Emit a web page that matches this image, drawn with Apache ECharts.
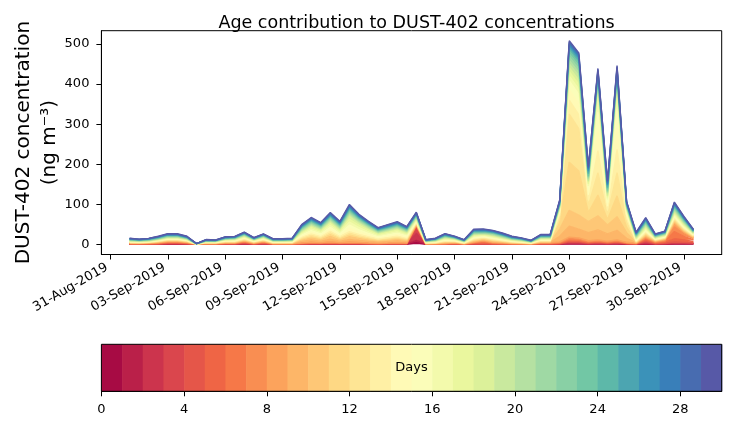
<!DOCTYPE html>
<html><head><meta charset="utf-8">
<script src="https://cdn.jsdelivr.net/npm/echarts@6/dist/echarts.min.js"></script>
<style>html,body{margin:0;padding:0;background:#fff}#c{width:730px;height:425px}</style>
</head><body><div id="c"></div>
<script>
// ---- categories: 12-hourly times ----
const times = [
'2019-09-01T00','2019-09-01T12','2019-09-02T00','2019-09-02T12','2019-09-03T00','2019-09-03T12','2019-09-04T00','2019-09-04T12','2019-09-05T00','2019-09-05T12',
'2019-09-06T00','2019-09-06T12','2019-09-07T00','2019-09-07T12','2019-09-08T00','2019-09-08T12','2019-09-09T00','2019-09-09T12','2019-09-10T00','2019-09-10T12',
'2019-09-11T00','2019-09-11T12','2019-09-12T00','2019-09-12T12','2019-09-13T00','2019-09-13T12','2019-09-14T00','2019-09-14T12','2019-09-15T00','2019-09-15T12',
'2019-09-16T00','2019-09-16T12','2019-09-17T00','2019-09-17T12','2019-09-18T00','2019-09-18T12','2019-09-19T00','2019-09-19T12','2019-09-20T00','2019-09-20T12',
'2019-09-21T00','2019-09-21T12','2019-09-22T00','2019-09-22T12','2019-09-23T00','2019-09-23T12','2019-09-24T00','2019-09-24T12','2019-09-25T00','2019-09-25T12',
'2019-09-26T00','2019-09-26T12','2019-09-27T00','2019-09-27T12','2019-09-28T00','2019-09-28T12','2019-09-29T00','2019-09-29T12','2019-09-30T00','2019-09-30T12'];

// ---- series values: contribution of each age (days), ng m-3 ----
const day0 = [.1,.1,.1,.1,.3,.3,.2,.02,.1,.05, .1,.1,.4,.1,.3,.05,.05,.05,.1,.2, .2,.2,.2,.2,.2,.1,.1,.1,.2,.1, 4,.05,.05,.05,.1,.05,.1,.2,.1,.05, .05,.05,.03,.1,.1,.2,1,.8,.4,.8, .4,.8,.3,.1,.5,.2,.3,.6,.5,.4];
const day1 = [.15,.15,.15,.2,.5,.5,.3,.03,.15,.08, .2,.2,.6,.15,.5,.08,.08,.08,.2,.3, .3,.3,.3,.3,.3,.2,.15,.2,.3,.2, 6,.08,.08,.08,.15,.08,.2,.3,.15,.08, .08,.08,.05,.15,.15,.3,1.2,1,.5,1, .5,1,.3,.15,1,.3,.5,1,.8,.6];
const day2 = [.2,.2,.2,.3,.6,.6,.4,.04,.2,.1, .3,.3,.8,.2,.6,.1,.1,.1,.3,.4, .4,.4,.4,.4,.4,.3,.2,.3,.4,.4, 18,.1,.1,.1,.2,.1,.3,.4,.2,.1, .1,.1,.06,.2,.2,.4,1.5,1.2,.6,1, .6,1,.4,.2,1.5,.4,.6,1.2,1,.8];
const day3 = [.2,.2,.2,.3,.7,.7,.4,.04,.2,.1, .3,.3,.9,.2,.7,.1,.1,.1,.3,.4, .4,.4,.4,.4,.4,.3,.2,.3,.4,.4, 12,.1,.1,.1,.3,.1,.4,.5,.2,.1, .1,.1,.06,.2,.2,.5,1.5,1.4,.7,1, .7,1,.5,.2,2.5,.5,.7,1.4,1.2,1];
const day4 = [.3,.3,.3,.4,.8,.8,.5,.05,.3,.15, .4,.4,1.1,.3,.8,.15,.15,.15,.4,.5, .5,.5,.5,.5,.5,.4,.3,.4,.5,.4, 5,.15,.15,.15,.4,.15,.5,.6,.3,.15, .15,.15,.08,.3,.3,.6,1.8,1.6,.8,1.2, .8,1.2,.5,.3,2.5,.6,.8,1.6,1.4,1.2];
const day5 = [.4,.4,.5,.7,1,1,.8,.07,.4,.4, .6,.6,1,.5,1,.4,.4,.4,.5,.8, .5,1,.5,.9,.7,.5,.4,.5,.7,.5, 1,.2,.3,.5,.9,.2,1,2,1,.8, .5,.4,.25,.8,.8,.8,2,2,1.2,1.2, 1,1.2,.6,.5,2.8,1.3,2.2,8,6,3];
const day6 = [.4,.4,.5,.8,1.1,1.1,.8,.07,.4,.4, .6,.6,1.1,.5,1.1,.4,.4,.4,.6,.9, .6,1.1,.6,1,.8,.6,.5,.6,.8,.5, 1,.2,.3,.5,.9,.2,1,2.2,1,.8, .5,.4,.25,.8,.8,1,2.5,2.3,1.4,1.4, 1.2,1.4,.7,.5,2.8,1.3,2.2,18,9,4.5];
const day7 = [.4,.4,.5,.8,1,1,.8,.07,.4,.4, .6,.6,1,.5,1,.4,.4,.4,.6,.9, .6,1.1,.6,1,.8,.6,.5,.6,.8,.5, 1,.2,.3,.5,.8,.2,1,1.7,1,.8, .5,.4,.25,.8,.8,1,3,2.7,1.6,1.6, 1.3,1.6,.8,.5,2.4,1.2,2,12,6,3];
const day8 = [.4,.4,.5,.8,1,1,.8,.07,.4,.4, .6,.6,1,.5,1,.4,.4,.4,.7,1, .7,1.2,.7,1.1,.8,.7,.6,.7,.8,.5, 1,.2,.3,.5,.7,.2,1,1.5,1,.8, .5,.4,.25,.8,.8,1.2,3.5,3,1.8,1.8, 1.5,1.8,.9,.5,2.2,1.1,1.8,7,4,1.5];
const day9 = [.6,.5,.6,.8,1,1,.8,.08,.5,.5, .8,.8,1.2,.8,1,.6,.6,.6,3.7,5.3, 3.9,6.8,3.9,6.6,5,3.9,2.9,3.5,4.2,3.1, 1.2,.5,.6,1.2,.8,.5,1.6,1.7,1.6,1.2, .8,.6,.4,1,1,14,27,22,20,25, 18,24,10,1,2.5,1,1.2,3.2,2.1,1.2];
const day10 = [.6,.5,.6,.8,1,1,.8,.08,.5,.5, .8,.8,1.2,.8,1,.6,.6,.6,3.6,5.2, 3.8,6.7,3.8,6.5,4.8,3.8,2.8,3.4,4,3, 1.2,.5,.6,1.2,.8,.5,1.6,1.6,1.6,1.2, .8,.6,.4,1,1,18,40,35,28,35, 22,34,14,1,2.4,1,1.2,3.1,2,1.2];
const day11 = [.6,.5,.6,.8,1,1,.8,.08,.5,.5, .8,.8,1.2,.8,1,.6,.6,.6,2.4,3.4, 2.6,4.4,2.6,4.4,3.4,2.6,1.8,2.2,2.6,2, 1.2,.5,.6,1.2,.8,.5,1.6,1.6,1.6,1.2, .8,.6,.4,1,1,16,120,110,22,52, 14,52,14,1,2.4,1,1.2,3,2,1.2];
const day12 = [.6,.5,.6,.8,1,1,.8,.08,.5,.5, .8,.8,1.2,.8,1,.6,.6,.6,2.4,3.4, 2.6,4.3,2.6,4.3,3.4,2.6,1.8,2.2,2.6,2, 1.2,.5,.6,1.2,.8,.5,1.6,1.6,1.6,1.2, .8,.6,.4,1,1,12,120,106,18,56, 12,58,12,1,2.4,1,1.2,2.9,2,1.2];
const day13 = [.6,.5,.6,.8,1,1,.8,.08,.5,.5, .8,.8,1.2,.8,1,.6,.6,.6,2.3,3.3, 2.5,4.2,2.5,4.2,3.3,2.5,1.7,2.1,2.5,1.9, 1.2,.5,.6,1.2,.8,.5,1.6,1.5,1.6,1.2, .8,.6,.4,1,1,8,35,35,13,55, 11,58,10,1,2.3,1,1.2,2.8,1.9,1.2];
const day14 = [.7,.6,.6,.8,1,1,.8,.08,.5,.5, .9,1,1.4,.8,1.2,.7,.7,.8,2.9,4.2, 3.5,5,3.7,8,5.8,4.1,2.9,3.3,3.7,2.9, 2,.6,.8,1.7,1,.6,2.1,1.6,1.8,1.4, 1,.8,.5,1.2,1.2,6,26,27,14,50, 10,52,8,1.6,2.8,1,1.2,3,2.2,1.2];
const day15 = [.7,.6,.6,.8,1,1,.8,.08,.5,.5, .9,1,1.4,.8,1.2,.7,.7,.8,2.8,4.1, 3.4,4.9,3.6,7.8,5.7,4,2.8,3.2,3.6,2.8, 2,.6,.8,1.6,1,.6,2,1.6,1.8,1.4, 1,.8,.5,1.2,1.2,5,22,23,12,46, 9,48,7,1.6,2.8,1,1.2,3,2.2,1.2];
const day16 = [.7,.6,.6,.8,1,1,.8,.08,.5,.5, .9,1,1.4,.8,1.2,.7,.7,.8,2.8,4, 3.4,4.8,3.6,7.6,5.6,4,2.8,3.2,3.6,2.8, 2,.6,.8,1.6,1,.6,2,1.6,1.8,1.4, 1,.8,.5,1.2,1.2,4,12,13,10,40, 8,40,5,1.6,2.8,1,1.2,3,2.2,1.2];
const day17 = [.7,.6,.6,.8,1,1,.8,.08,.5,.5, .9,1,1.4,.8,1.2,.7,.7,.8,2.7,3.9, 3.3,4.7,3.5,7.4,5.5,4,2.7,3.1,3.5,2.7, 2,.6,.8,1.6,1,.6,2,1.6,1.8,1.4, 1,.8,.5,1.2,1.2,2,11,12,5,16, 5,16,2.5,1.6,2.8,1,1.2,3,2.2,1.2];
const day18 = [.7,.6,.6,.8,1,1,.8,.08,.5,.5, .9,1,1.4,.8,1.2,.7,.7,.8,2.6,3.8, 3.2,4.6,3.4,7.2,5.4,3.9,2.6,3,3.4,2.6, 2,.6,.8,1.5,1,.6,1.9,1.6,1.8,1.4, 1,.8,.5,1.2,1.2,2,10,11,4,12, 4,12,2,1.6,2.8,1,1.2,3,2.2,1.2];
const day19 = [.6,.5,.6,.7,1,.9,.7,.06,.4,.4, .6,.7,1,.6,.8,.5,.5,.6,1.9,2.3, 1.9,2.5,2.1,3.4,2.5,2.1,1.5,1.7,1.9,1.7, 1.7,.5,.6,1.1,.7,.5,1.5,1.2,1.4,1.1, .8,.7,.4,.9,.9,1.8,9,10,3.5,7, 3.5,7,2,1.4,2.5,.9,1,2.7,2.1,.9];
const day20 = [.6,.5,.6,.7,1,.9,.7,.06,.4,.4, .6,.7,1,.6,.8,.5,.5,.6,1.8,2.2, 1.8,2.4,2,3.3,2.4,2,1.4,1.6,1.8,1.6, 1.6,.5,.6,1,.7,.5,1.4,1.2,1.3,1.1, .8,.7,.4,.9,.9,1.8,9,9,3.5,4, 3.5,4,1.8,1.4,2.4,.9,1,2.6,2,.9];
const day21 = [.6,.5,.6,.7,1,.9,.7,.06,.4,.4, .6,.7,1,.6,.8,.5,.5,.6,1.8,2.2, 1.8,2.4,2,3.2,2.4,2,1.4,1.6,1.8,1.6, 1.6,.5,.6,1,.7,.5,1.4,1.2,1.3,1.1, .8,.7,.4,.9,.9,1.6,8.5,8.5,3,3, 3,3,1.6,1.4,2.4,.9,1,2.6,2,.9];
const day22 = [.6,.5,.6,.7,1,.9,.7,.06,.4,.4, .6,.7,1,.6,.8,.5,.5,.6,1.8,2.2, 1.8,2.4,2,3.1,2.4,2,1.4,1.6,1.8,1.6, 1.6,.5,.6,1,.7,.5,1.4,1.2,1.3,1.1, .8,.7,.4,.9,.9,1.6,8,8,3,2.5, 3,2.5,1.6,1.4,2.4,.9,1,2.5,2,.9];
const day23 = [.6,.5,.6,.7,1,.9,.7,.06,.4,.4, .6,.7,1,.6,.8,.5,.5,.6,1.7,2.1, 1.7,2.3,1.9,3,2.3,1.9,1.3,1.5,1.7,1.5, 1.5,.5,.6,.9,.7,.5,1.3,1.2,1.2,1.1, .8,.7,.4,.9,.9,1.5,7.5,7.5,3,2.5, 3,2.5,1.5,1.4,2.3,.9,1,2.5,1.9,.9];
const day24 = [.5,.4,.5,.7,.8,.8,.6,.07,.4,.3, .6,.6,.8,.5,.7,.5,.5,.5,1.5,1.8, 1.6,1.9,1.8,2.5,1.8,1.5,1.3,1.5,1.6,1.3, 1.3,.4,.6,1,.6,.4,1.3,1.3,1.2,1, .8,.6,.4,.8,.8,1.8,5,5,4.5,4.5, 4,4.5,1.8,1.2,1.9,.8,.8,2.1,1.6,.8];
const day25 = [.5,.4,.5,.7,.8,.8,.6,.07,.4,.3, .6,.6,.8,.5,.7,.5,.5,.5,1.4,1.7, 1.5,1.8,1.7,2.4,1.7,1.4,1.2,1.4,1.5,1.2, 1.2,.4,.6,.9,.6,.4,1.2,1.2,1.1,1, .8,.6,.4,.8,.8,1.7,4.5,4.5,4,4, 3.6,4,1.7,1.2,1.8,.8,.8,2,1.5,.8];
const day26 = [.5,.4,.5,.7,.8,.8,.6,.07,.4,.3, .6,.6,.8,.5,.7,.5,.5,.5,1.4,1.7, 1.5,1.8,1.7,2.3,1.7,1.4,1.2,1.4,1.5,1.2, 1.2,.4,.6,.9,.6,.4,1.2,1.2,1.1,1, .8,.6,.4,.8,.8,1.6,4.2,4.2,4,3.8, 3.5,3.8,1.6,1.2,1.8,.8,.8,2,1.5,.8];
const day27 = [.5,.4,.5,.7,.8,.8,.6,.07,.4,.3, .6,.6,.8,.5,.7,.5,.5,.5,1.4,1.7, 1.5,1.8,1.7,2.3,1.7,1.4,1.2,1.4,1.5,1.2, 1.2,.4,.6,.9,.6,.4,1.2,1.2,1.1,1, .8,.6,.4,.8,.8,1.5,4,4,3.8,3.5, 3.4,3.5,1.5,1.2,1.8,.8,.8,2,1.5,.8];
const day28 = [.5,.4,.5,.7,.8,.8,.6,.07,.4,.3, .6,.6,.8,.5,.7,.5,.5,.5,1.3,1.6, 1.4,1.7,1.6,2.2,1.6,1.3,1.1,1.3,1.4,1.1, 1.1,.4,.6,.9,.6,.4,1.1,1.1,1,1, .8,.6,.4,.8,.8,1.4,3.8,3.8,3.6,3.2, 3.2,3.2,1.4,1.2,1.7,.8,.8,1.9,1.4,.8];
const day29 = [.5,.4,.5,.7,.8,.8,.6,.07,.4,.3, .6,.6,.8,.5,.7,.5,.5,.5,1.3,1.6, 1.4,1.7,1.6,2.1,1.6,1.3,1.1,1.3,1.4,1.1, 1.1,.4,.6,.8,.6,.4,1.1,1.1,1,1, .8,.6,.4,.8,.8,1.3,3.5,3.5,3.5,3, 3,3,1.3,1.2,1.7,.8,.8,1.9,1.4,.8];

// ---- tick labels ----
const xTickLabels = ['31-Aug-2019','03-Sep-2019','06-Sep-2019','09-Sep-2019','12-Sep-2019','15-Sep-2019','18-Sep-2019','21-Sep-2019','24-Sep-2019','27-Sep-2019','30-Sep-2019'];
const yTickValues = [0,100,200,300,400,500];
const cbTickValues = [0,4,8,12,16,20,24,28];
const ageDays = [0,1,2,3,4,5,6,7,8,9,10,11,12,13,14,15,16,17,18,19,20,21,22,23,24,25,26,27,28,29];

// ---- styling ----
const FONT = 'DejaVu Sans';
const SPECTRAL = [[158,1,66],[213,62,79],[244,109,67],[253,174,97],[254,224,139],[255,255,191],[230,245,152],[171,221,164],[102,194,165],[50,136,189],[94,79,162]];
function spectral(t){
  const p = t*10, i = Math.min(9, Math.floor(p)), f = p - i;
  const a = SPECTRAL[i], b = SPECTRAL[i+1];
  const c = a.map((v,k)=>Math.round(v+(b[k]-v)*f));
  return 'rgb('+c.join(',')+')';
}
const colors = ageDays.map(d => spectral((d+0.5)/ageDays.length));

// x positions in days since 31-Aug-2019 (for the frame axis)
const DAY = 864e5, ORIGIN = Date.UTC(2019,7,31);
const MON = {Aug:7, Sep:8};
const dOf = s => (Date.parse(s+':00:00Z') - ORIGIN)/DAY;
const dLabel = s => { const p = s.split('-'); return (Date.UTC(+p[2], MON[p[1]], +p[0]) - ORIGIN)/DAY; };
const xs = times.map(dOf);
const xTickVals = xTickLabels.map(dLabel);
const span = xs[xs.length-1] - xs[0];
const xMin = xs[0] - 0.05*span, xMax = xs[xs.length-1] + 0.05*span;   // matplotlib default margins
const yMin = -25.4, yMax = 533.2;

// layout (pixels)
const G = {left:101.4, top:30.7, right:721.7, bottom:254.5};
const W = G.right - G.left;
const D = {left: G.left + W*(xs[0]-xMin)/(xMax-xMin), right: G.left + W*(xs[xs.length-1]-xMin)/(xMax-xMin)};
const CB = {left:101.4, top:344.3, right:721.7, bottom:391.3};

const dayArrays = [day0,day1,day2,day3,day4,day5,day6,day7,day8,day9,day10,day11,day12,day13,day14,day15,day16,day17,day18,day19,day20,day21,day22,day23,day24,day25,day26,day27,day28,day29];

const areaSeries = dayArrays.map((arr,k)=>({
  type:'line', name:String(k), stack:'age', xAxisIndex:1, yAxisIndex:1,
  data: arr, symbol:'none', showSymbol:false, silent:true,
  lineStyle:{width:1.4, color:colors[k]}, areaStyle:{color:colors[k], opacity:1}, itemStyle:{color:colors[k]},
  emphasis:{disabled:true}
}));

const cbSeries = {
  type:'custom', xAxisIndex:2, yAxisIndex:2, silent:true,
  data: ageDays.map(d=>[d,1]), encode:{x:0,y:1},
  renderItem:(params, api)=>{
    const d = api.value(0);
    const p0 = api.coord([d,0]), p1 = api.coord([d+1,1]);
    return {type:'rect', shape:{x:p0[0], y:p1[1], width:p1[0]-p0[0]+0.6, height:p0[1]-p1[1]}, style:{fill:colors[d]}};
  }
};

const axisLine = {show:true, onZero:false, lineStyle:{color:'#000', width:1}};

const chart = echarts.init(document.getElementById('c'), null, {renderer:'canvas'});
chart.setOption({
  animation:false,
  backgroundColor:'#fff',
  title:{text:'Age contribution to DUST-402 concentrations', left:(G.left+G.right)/2, textAlign:'center', top:9,
    textStyle:{fontFamily:FONT, fontSize:17.5, fontWeight:'normal', color:'#000'}},
  grid:[
    {left:G.left, top:G.top, width:W, height:G.bottom-G.top, show:true, borderColor:'#000', borderWidth:1, backgroundColor:'#fff'},
    {left:D.left, top:G.top, width:D.right-D.left, height:G.bottom-G.top},
    {left:CB.left, top:CB.top, width:CB.right-CB.left, height:CB.bottom-CB.top}
  ],
  xAxis:[
    {type:'value', gridIndex:0, min:xMin, max:xMax, axisLine, splitLine:{show:false},
      axisTick:{show:true, customValues:xTickVals, length:5, lineStyle:{color:'#000'}},
      axisLabel:{customValues:xTickVals, rotate:30, margin:10, padding:[0,4,0,0], fontFamily:FONT, fontSize:13, color:'#000',
        formatter:v=>{ let best=0; xTickVals.forEach((t,i)=>{ if (Math.abs(t-v)<Math.abs(xTickVals[best]-v)) best=i; }); return xTickLabels[best]; }}},
    {type:'category', gridIndex:1, data:times, boundaryGap:false, show:false},
    {type:'value', gridIndex:2, min:0, max:30, axisLine, splitLine:{show:false},
      axisTick:{show:true, customValues:cbTickValues, length:5, lineStyle:{color:'#000'}},
      axisLabel:{customValues:cbTickValues, margin:12, fontFamily:FONT, fontSize:13, color:'#000'}}
  ],
  yAxis:[
    {type:'value', gridIndex:0, min:yMin, max:yMax, axisLine, splitLine:{show:false},
      axisTick:{show:true, customValues:yTickValues, length:5, lineStyle:{color:'#000'}},
      axisLabel:{customValues:yTickValues, margin:12, fontFamily:FONT, fontSize:13, color:'#000'}},
    {type:'value', gridIndex:1, min:yMin, max:yMax, show:false},
    {type:'value', gridIndex:2, min:0, max:1, show:false}
  ],
  series: areaSeries.concat([cbSeries]),
  graphic:[
    {type:'text', x:37, y:(G.top+G.bottom)/2, rotation:Math.PI/2, z:10,
      style:{text:'DUST-402 concentration\n(ng m⁻³)', fontFamily:FONT, fontSize:20, fill:'#000', align:'center', verticalAlign:'middle', lineHeight:26}},
    {type:'rect', z:10, shape:{x:CB.left, y:CB.top, width:CB.right-CB.left, height:CB.bottom-CB.top},
      style:{fill:'none', stroke:'#000', lineWidth:1}},
    {type:'text', z:11, x:(CB.left+CB.right)/2, y:(CB.top+CB.bottom)/2,
      style:{text:'Days', fontFamily:FONT, fontSize:13, fill:'#000', align:'center', verticalAlign:'middle'}}
  ]
});
</script>
</body></html>
